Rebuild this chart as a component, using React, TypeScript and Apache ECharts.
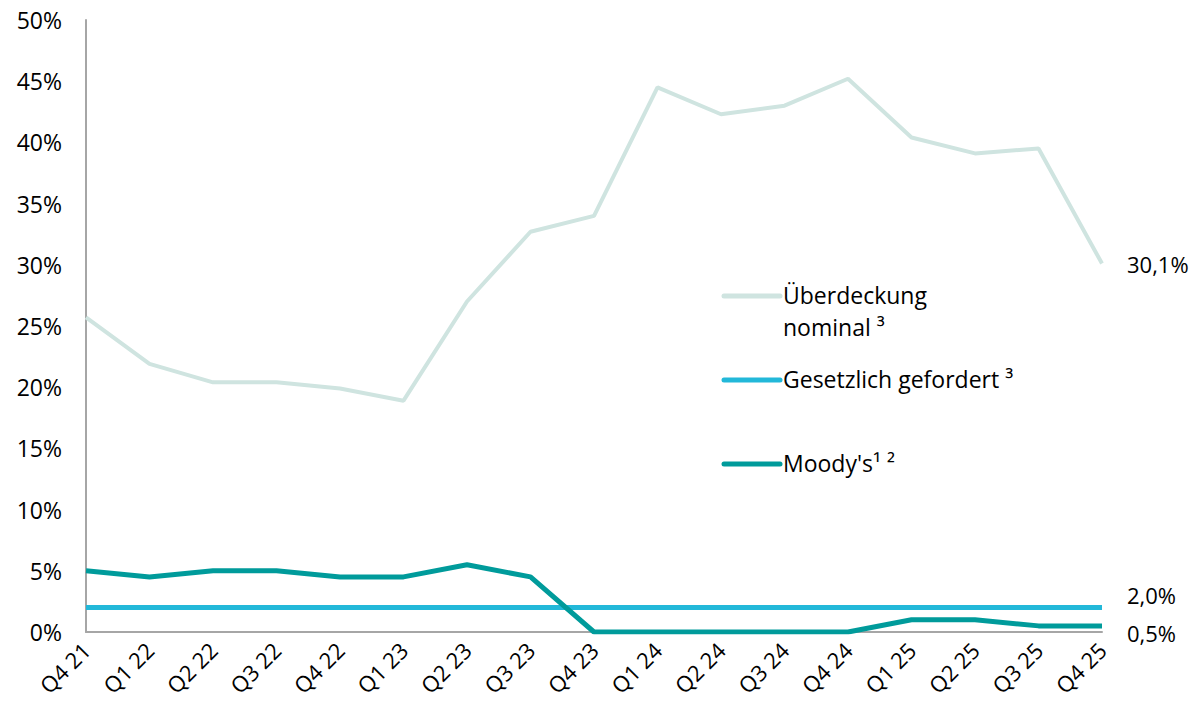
import React, { useEffect, useRef } from "react";
import * as echarts from "echarts";

const categories = ["Q4 21", "Q1 22", "Q2 22", "Q3 22", "Q4 22", "Q1 23", "Q2 23", "Q3 23", "Q4 23", "Q1 24", "Q2 24", "Q3 24", "Q4 24", "Q1 25", "Q2 25", "Q3 25", "Q4 25"];
const ueberdeckung = [25.7, 21.9, 20.4, 20.4, 19.9, 18.9, 27.0, 32.7, 34.0, 44.5, 42.3, 43.0, 45.2, 40.4, 39.1, 39.5, 30.1];
const gesetzlich = [2.0, 2.0, 2.0, 2.0, 2.0, 2.0, 2.0, 2.0, 2.0, 2.0, 2.0, 2.0, 2.0, 2.0, 2.0, 2.0, 2.0];
const moodys = [5.0, 4.5, 5.0, 5.0, 4.5, 4.5, 5.5, 4.5, 0, 0, 0, 0, 0, 1.0, 1.0, 0.5, 0.5];
const seriesNames = ["Überdeckung\nnominal ³", "Gesetzlich gefordert ³", "Moody's¹ ²"];
const colors = ["#cfe4e0", "#22b8d9", "#009b9b"];

const FONT = "'Open Sans', sans-serif";
const fmt = (v: number) => v.toFixed(1).replace(".", ",") + "%";

export default function App() {
  const ref = useRef<HTMLDivElement>(null);
  useEffect(() => {
    document.body.style.margin = "0";
    const chart = echarts.init(ref.current!, null, { renderer: "svg" });
    const endLabel = (dy: number) => ({
      show: true,
      formatter: (p: any) => fmt(p.value),
      color: "#000",
      fontFamily: FONT,
      fontSize: 22,
      distance: 25,
      offset: [0, dy],
    });
    const legendY = [296, 380, 464];
    const graphics: any[] = [];
    seriesNames.forEach((n, i) => {
      graphics.push({
        type: "line",
        shape: { x1: 724, y1: legendY[i], x2: 780, y2: legendY[i] },
        style: { stroke: colors[i], lineWidth: 5, lineCap: "round" },
      });
      graphics.push({
        type: "text",
        x: 783,
        y: legendY[i] - 17,
        style: { text: n, fill: "#000", font: `23px ${FONT}`, lineHeight: 32, textVerticalAlign: "top" },
      });
    });
    chart.setOption({
      animation: false,
      grid: { left: 86, right: 89, top: 20, bottom: 80, containLabel: false },
      xAxis: {
        type: "category",
        data: categories,
        boundaryGap: false,
        axisLine: { lineStyle: { color: "#a6a6a6", width: 2 } },
        axisTick: { show: false },
        axisLabel: { rotate: 45, color: "#000", fontFamily: FONT, fontSize: 22, margin: 14, interval: 0 },
      },
      yAxis: {
        type: "value",
        min: 0,
        max: 50,
        interval: 5,
        splitLine: { show: false },
        axisLine: { show: true, lineStyle: { color: "#a6a6a6", width: 2 } },
        axisTick: { show: false },
        axisLabel: { formatter: "{value}%", color: "#000", fontFamily: FONT, fontSize: 23, margin: 24 },
      },
      series: [
        { name: seriesNames[0], type: "line", data: ueberdeckung, symbol: "none", lineStyle: { color: colors[0], width: 4 }, endLabel: endLabel(0) },
        { name: seriesNames[1], type: "line", data: gesetzlich, symbol: "none", lineStyle: { color: colors[1], width: 5 }, endLabel: endLabel(-13) },
        { name: seriesNames[2], type: "line", data: moodys, symbol: "none", lineStyle: { color: colors[2], width: 5 }, endLabel: endLabel(7) },
      ],
      graphic: graphics,
    });
    return () => chart.dispose();
  }, []);
  return <div ref={ref} style={{ position: "absolute", left: 0, top: 0, width: 1191, height: 712 }} />;
}
